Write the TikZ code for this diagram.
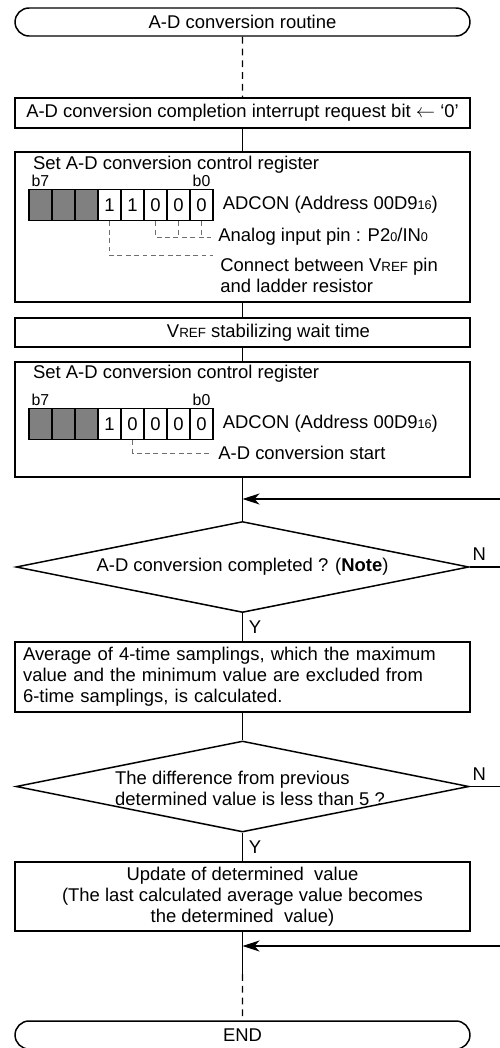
\documentclass[tikz,border=0pt]{standalone}
\usepackage{fontspec}
\setmainfont{Liberation Sans}
\usepackage{xcolor}
\usepackage{tikz}
\usetikzlibrary{arrows.meta,positioning,shapes.geometric,shapes.misc}
\definecolor{cellgray}{RGB}{128,128,128}
\definecolor{notegray}{RGB}{110,110,110}
\newcommand{\lowtxt}[1]{{\fontsize{7.2}{8}\selectfont #1}}
\newcommand{\vrefpin}{V{\fontsize{7.6}{9}\selectfont REF}}

\begin{document}
\begin{tikzpicture}[x=0.02cm,y=-0.02cm,font=\fontsize{10.5}{12}\selectfont,
    >={Stealth[length=0.34cm,width=0.22cm,inset=0.1cm]},
    term/.style={draw,rounded rectangle,line width=0.85pt,minimum width=9.1cm,minimum height=0.56cm,inner sep=0pt},
    proc/.style={draw,rectangle,line width=0.85pt,minimum width=9.1cm,inner sep=0pt},
    decide/.style={draw,diamond,aspect=5,line width=0.85pt,minimum width=9.06cm,minimum height=1.82cm,inner sep=0pt},
    bitcell/.style={draw,line width=0.85pt,minimum width=0.46cm,minimum height=0.62cm,inner sep=0pt},
    bitlbl/.style={font=\fontsize{9}{10}\selectfont,inner sep=0pt},
    lbl/.style={anchor=west,inner sep=1pt},
    notelbl/.style={anchor=west,inner xsep=4pt,inner ysep=1pt},
    flow/.style={line width=0.6pt},
    gap/.style={line width=0.6pt,dash pattern=on 3.9pt off 2.8pt},
    note/.style={notegray,line width=0.45pt,dash pattern=on 2.8pt off 2pt}]
  \useasboundingbox (0,0) rectangle (500,1048);

  % main flow
  \node[term] (start) at (242.5,22) {A-D conversion routine};
  \node[proc,minimum height=0.6cm] (clr) at (242.5,113)
    {A-D conversion completion interrupt request bit $\leftarrow$ `0'};
  \node[proc,minimum height=3cm] (set1) at (242.5,227) {};
  \node[proc,minimum height=0.58cm] (vref) at (242.5,332.5)
    {\hspace*{1.04cm}\vrefpin{} stabilizing wait time};
  \node[proc,minimum height=2.3cm] (set2) at (242.5,419.5) {};
  \node[decide] (dec1) at (242.5,567) {A-D conversion completed ? (\textbf{Note})};
  \node[proc,minimum height=1.4cm,text width=8.78cm,align=left,inner xsep=0.16cm] (avg) at (242.5,677)
    {Average of 4-time samplings, which the maximum\\value and the minimum value are excluded from\\6-time samplings, is calculated.};
  \node[decide] (dec2) at (242.5,786.5) {};
  \node[align=left,inner sep=0pt] (q2) at (250,788)
    {The difference from previous\\determined value is less than 5 ?};
  \node[proc,minimum height=1.38cm,align=center] (upd) at (242.5,896.5)
    {Update of determined\ \ value\\(The last calculated average value becomes\\the determined\ \ value)};
  \node[term] (fin) at (242.5,1035) {END};

  % first register setting
  \node[lbl] (t1) at (31,165) {Set A-D conversion control register};
  \foreach \b in {7,6,5}
    \node[bitcell,fill=cellgray] (ra\b) at ({40.5+(7-\b)*23},205) {};
  \foreach \b/\v in {4/1,3/1,2/0,1/0,0/0}
    \node[bitcell] (ra\b) at ({40.5+(7-\b)*23},205) {\v};
  \node[bitlbl,above=1pt of ra7] (ha7) {b7};
  \node[bitlbl,above=1pt of ra0] (ha0) {b0};
  \node[lbl,right=0.14cm of ra0] (adc1) {ADCON (Address 00D9\lowtxt{16})};
  \node[notelbl] (ain) at (211,237) {Analog input pin : P2\lowtxt{0}/IN\lowtxt{0}};
  \node[notelbl,anchor=north west,align=left] (cref) at (213,255.7)
    {Connect between \vrefpin{} pin\\and ladder resistor};
  \draw[note] (ra2.south) |- (ain.west);
  \draw[note] (ra1.south) -- (ra1.south |- ain.west);
  \draw[note] (ra0.south) -- (ra0.south |- ain.west);
  \draw[note] (ra4.south) |- (cref.north west);

  % second register setting
  \node[lbl] (t2) at (31,374) {Set A-D conversion control register};
  \foreach \b in {7,6,5}
    \node[bitcell,fill=cellgray] (rb\b) at ({40.5+(7-\b)*23},424) {};
  \foreach \b/\v in {4/1,3/0,2/0,1/0,0/0}
    \node[bitcell] (rb\b) at ({40.5+(7-\b)*23},424) {\v};
  \node[bitlbl,above=1pt of rb7] (hb7) {b7};
  \node[bitlbl,above=1pt of rb0] (hb0) {b0};
  \node[lbl,right=0.14cm of rb0] (adc2) {ADCON (Address 00D9\lowtxt{16})};
  \node[notelbl] (cst) at (211,453) {A-D conversion start};
  \draw[note] (rb3.south) |- (cst.west);

  % connectors
  \coordinate (back1) at (500,499);
  \coordinate (back2) at (500,946);
  \coordinate (brk) at (242.5,974);
  \draw[gap] (start) -- (clr);
  \draw[flow] (clr) -- (set1);
  \draw[flow] (set1) -- (vref);
  \draw[flow] (vref) -- (set2);
  \draw[flow] (set2) -- (dec1);
  \draw[flow,->] (back1) -- (back1 -| set2.south);
  \draw[flow] (dec1.east) -- (dec1.east -| back1) node[pos=0.32,above] (n1) {N};
  \draw[flow] (dec1) -- node[right] (y1) {Y} (avg);
  \draw[flow] (avg) -- (dec2);
  \draw[flow] (dec2.east) -- (dec2.east -| back1) node[pos=0.32,above] (n2) {N};
  \draw[flow] (dec2) -- node[right] (y2) {Y} (upd);
  \draw[flow,->] (back2) -- (back2 -| upd.south);
  \draw[flow] (upd) -- (brk);
  \draw[gap] (brk) -- (fin);
\end{tikzpicture}
\end{document}
